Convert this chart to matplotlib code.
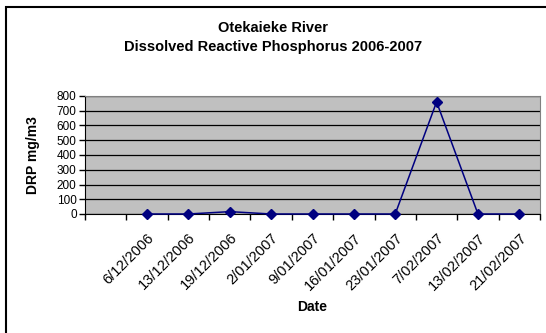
import matplotlib.pyplot as plt
import numpy as np
from matplotlib.patches import Rectangle
from matplotlib.transforms import ScaledTranslation

plt.rcParams['font.family'] = ['Liberation Sans', 'DejaVu Sans']

# first category is blank in the source sheet
dates = ['', '6/12/2006', '13/12/2006', '19/12/2006', '2/01/2007', '9/01/2007',
         '16/01/2007', '23/01/2007', '7/02/2007', '13/02/2007', '21/02/2007']
drp = [np.nan, 0, 0, 16, 0, 0, 0, 0, 760, 0, 0]

fig = plt.figure(figsize=(5.46, 3.33), dpi=100)
ax = fig.add_axes([85 / 546, 1 - 214 / 333, 455 / 546, 118 / 333])

# chart border (only top/left visible in the original)
fig.patches.append(Rectangle((6 / 546, -0.1), 1.5, 1 - 7 / 333 + 0.1,
                             transform=fig.transFigure, fill=False,
                             edgecolor='black', linewidth=1.5))

x = np.arange(len(dates))
ax.set_facecolor('#C0C0C0')
ax.plot(x, drp, color='#000080', marker='D', markersize=5, linewidth=1.1,
        clip_on=False, zorder=3)

ax.set_xlim(-0.5, len(dates) - 0.5)
ax.set_ylim(0, 800)
ax.set_yticks(range(0, 801, 100))
ax.yaxis.grid(True, color='black', linewidth=0.9)
ax.set_axisbelow(True)

ax.set_xticks(x)
ax.set_xticklabels(dates, rotation=45, ha='right', va='top',
                   rotation_mode='anchor', fontsize=10.5)
shift = ScaledTranslation(-6 / 100, 0, fig.dpi_scale_trans)
for lab in ax.get_xticklabels():
    lab.set_transform(lab.get_transform() + shift)
ax.set_xticks(np.arange(-0.5, len(dates), 1), minor=True)
ax.tick_params(axis='x', which='major', length=0, pad=12)
ax.tick_params(axis='x', which='minor', length=4, width=1, color='black')
ax.tick_params(axis='y', length=4, width=1, labelsize=8.5, pad=2)

for side in ['top', 'right']:
    ax.spines[side].set_color('#808080')
for side in ['left', 'bottom']:
    ax.spines[side].set_color('black')

ax.set_ylabel('DRP mg/m3', fontsize=10, fontweight='bold', va='center')
ax.yaxis.set_label_coords(-52 / 455, 0.5)
ax.set_xlabel('Date', fontsize=10, fontweight='bold', va='center')
ax.xaxis.set_label_coords(0.5, -93 / 118)
fig.text(0.5, 1 - 28 / 333, 'Otekaieke River', ha='center', va='center',
         fontsize=10.5, fontweight='bold')
fig.text(0.5, 1 - 47 / 333, 'Dissolved Reactive Phosphorus 2006-2007',
         ha='center', va='center', fontsize=10.5, fontweight='bold')

fig.savefig('out.png', dpi=100)
